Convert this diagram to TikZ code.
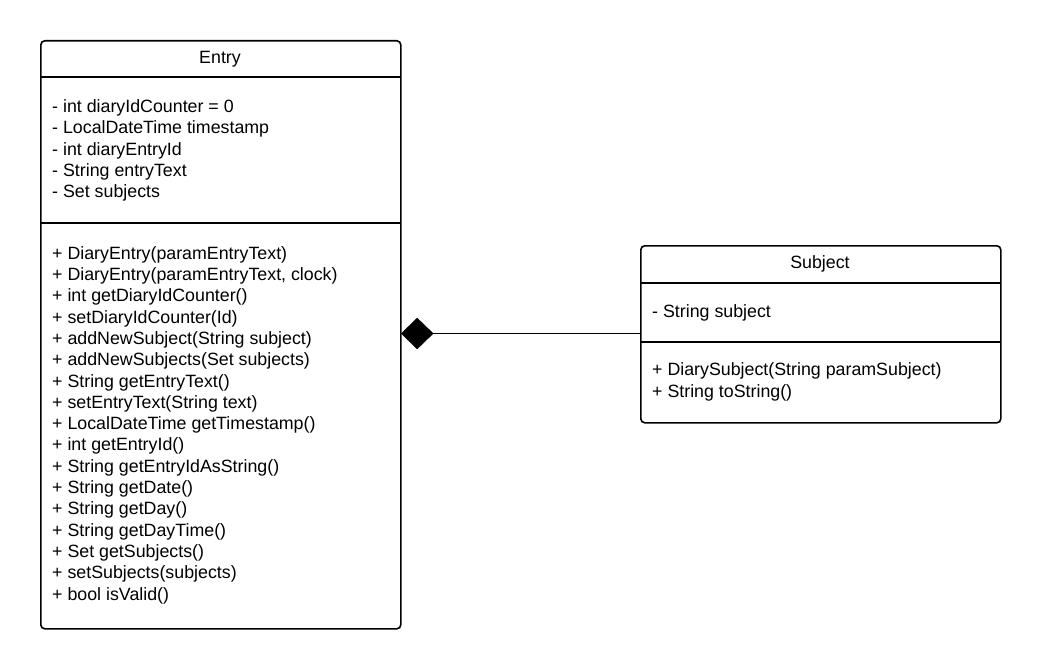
\documentclass[tikz,border=0pt]{standalone}
\usepackage{fontspec}
\setmainfont{Liberation Sans}
\usetikzlibrary{shapes.geometric}
\begin{document}
\begin{tikzpicture}[x=1pt,y=-1pt,
  classbox/.style={draw, line width=1.6pt, rounded corners=4pt, inner sep=0pt, anchor=north west},
  divider/.style={line width=1.6pt},
  title/.style={font=\fontsize{17.8}{21.3}\selectfont, inner sep=0pt},
  members/.style={font=\fontsize{17.8}{21.3}\selectfont, align=left, anchor=west, inner sep=0pt},
  composition/.style={diamond, fill=black, draw=black, line width=0.4pt, inner sep=0pt, minimum width=32pt, minimum height=31pt, anchor=west},
  link/.style={line width=1.6pt}]
  \useasboundingbox (0,0) rectangle (1040,668);

  % Entry class
  \node[classbox, minimum width=360pt, minimum height=588pt] (entry) at (40,40) {};
  \draw[divider] (40,77) -- (400,77);
  \draw[divider] (40,223) -- (400,223);
  \node[title] (entrytitle) at (220,59) {Entry};
  \node[members] (entryattrs) at (52,150.5) {- int diaryIdCounter = 0\\
- LocalDateTime timestamp\\
- int diaryEntryId\\
- String entryText\\
- Set subjects};
  \node[members] (entryops) at (52,425) {+ DiaryEntry(paramEntryText)\\
+ DiaryEntry(paramEntryText, clock)\\
+ int getDiaryIdCounter()\\
+ setDiaryIdCounter(Id)\\
+ addNewSubject(String subject)\\
+ addNewSubjects(Set subjects)\\
+ String getEntryText()\\
+ setEntryText(String text)\\
+ LocalDateTime getTimestamp()\\
+ int getEntryId()\\
+ String getEntryIdAsString()\\
+ String getDate()\\
+ String getDay()\\
+ String getDayTime()\\
+ Set getSubjects()\\
+ setSubjects(subjects)\\
+ bool isValid()};

  % Subject class
  \node[classbox, minimum width=360pt, minimum height=177pt] (subject) at (640,245) {};
  \draw[divider] (640,283) -- (1000,283);
  \draw[divider] (640,342) -- (1000,342);
  \node[title] (subjecttitle) at (820,264) {Subject};
  \node[members] (subjectattrs) at (652,313) {- String subject};
  \node[members] (subjectops) at (652,382) {+ DiarySubject(String paramSubject)\\
+ String toString()};

  % Composition: Entry owns its Subjects
  \node[composition] (comp) at (401,333.5) {};
  \draw[link] (comp.east) -- (comp.east -| subject.west);
\end{tikzpicture}
\end{document}
